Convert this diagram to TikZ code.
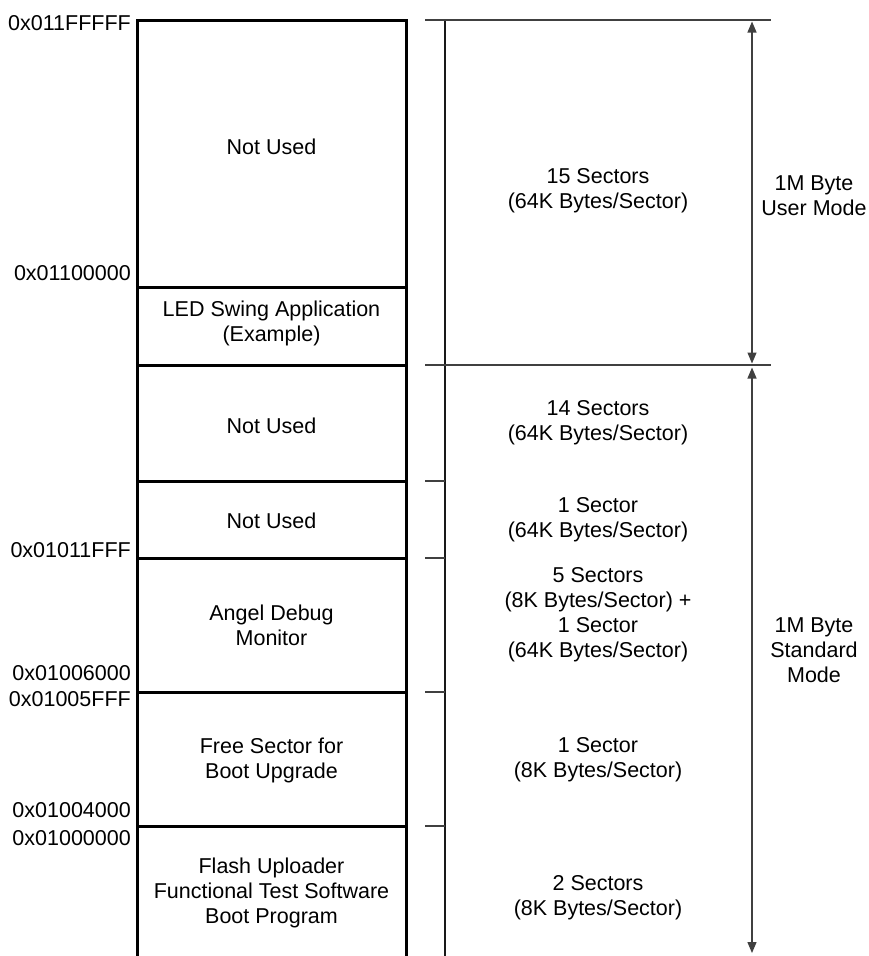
\documentclass[tikz,border=0pt]{standalone}
\usepackage{fontspec}
\setmainfont{Liberation Sans}
\usetikzlibrary{arrows.meta}
\begin{document}
\begin{tikzpicture}[x=1pt,y=-1pt,
  every node/.style={font=\fontsize{21.5}{25}\selectfont, align=center, inner sep=0pt},
  sect/.style={draw, line width=3pt, minimum width=269pt, inner sep=0pt},
  addr/.style={anchor=base east},
  vline/.style={line width=1.3pt, draw=black!90},
  hline/.style={line width=1.3pt, draw=black!75},
  dimarrow/.style={line width=1.3pt, draw=black!75,
    {Triangle[length=11pt,width=9pt]}-{Triangle[length=11pt,width=9pt]}},
]
\useasboundingbox (0,0) rectangle (869,956);

% memory sections
\node[sect, minimum height=267pt] (s1) at (271.5,153.5) {};
\node[sect, minimum height=78pt]  (s2) at (271.5,326) {};
\node[sect, minimum height=116pt] (s3) at (271.5,423) {};
\node[sect, minimum height=77pt]  (s4) at (271.5,519.5) {};
\node[sect, minimum height=134pt] (s5) at (271.5,625) {};
\node[sect, minimum height=134pt] (s6) at (271.5,759) {};
\node[sect, minimum height=160pt] (s7) at (271.5,906) {};

% section texts
\node (t1) at (271.5,147) {Not Used};
\node (t2) at (271.5,323) {LED Swing Application\\(Example)};
\node (t3) at (271.5,426) {Not Used};
\node (t4) at (271.5,521) {Not Used};
\node (t5) at (271.5,625) {Angel Debug\\Monitor};
\node (t6) at (271.5,760) {Free Sector for\\Boot Upgrade};
\node (t7) at (271.5,893) {Flash Uploader\\Functional Test Software\\Boot Program};

% addresses
\node[addr] (a1) at (131,30)  {0x011FFFFF};
\node[addr] (a2) at (131,280) {0x01100000};
\node[addr] (a3) at (131,557) {0x01011FFF};
\node[addr] (a4) at (131,680) {0x01006000};
\node[addr] (a5) at (131,706) {0x01005FFF};
\node[addr] (a6) at (131,817) {0x01004000};
\node[addr] (a7) at (131,845) {0x01000000};

% right scale
\coordinate (vt) at (445,20);
\coordinate (vb) at (445,956);
\draw[vline] (vt) -- (vb);
\coordinate (h1a) at (425,20);  \coordinate (h1b) at (771,20);
\coordinate (h2a) at (425,365); \coordinate (h2b) at (771,365);
\draw[hline] (h1a) -- (h1b);
\draw[hline] (h2a) -- (h2b);
\foreach \yy/\nm in {481/k1,558/k2,692/k3,826/k4}{
  \coordinate (\nm a) at (425,\yy);
  \coordinate (\nm b) at (445,\yy);
  \draw[hline] (\nm a) -- (\nm b);
}

% dimension arrows
\coordinate (d1) at (752,20);
\coordinate (d2) at (752,365);
\coordinate (d3) at (752,956);
\draw[dimarrow, shorten <=1.5pt, shorten >=1.5pt] (d1) -- (d2);
\draw[dimarrow, shorten <=2.5pt, shorten >=3pt] (d2) -- (d3);

% sector texts
\node (r1) at (598,191) {15 Sectors\\(64K Bytes/Sector)};
\node (r2) at (598,423) {14 Sectors\\(64K Bytes/Sector)};
\node (r3) at (598,520) {1 Sector\\(64K Bytes/Sector)};
\node (r4) at (598,615) {5 Sectors\\(8K Bytes/Sector) +\\1 Sector\\(64K Bytes/Sector)};
\node (r5) at (598,760) {1 Sector\\(8K Bytes/Sector)};
\node (r6) at (598,898) {2 Sectors\\(8K Bytes/Sector)};

% mode labels
\node (m1) at (814,196) {1M Byte\\User Mode};
\node (m2) at (814,650) {1M Byte\\Standard\\Mode};
\end{tikzpicture}
\end{document}
